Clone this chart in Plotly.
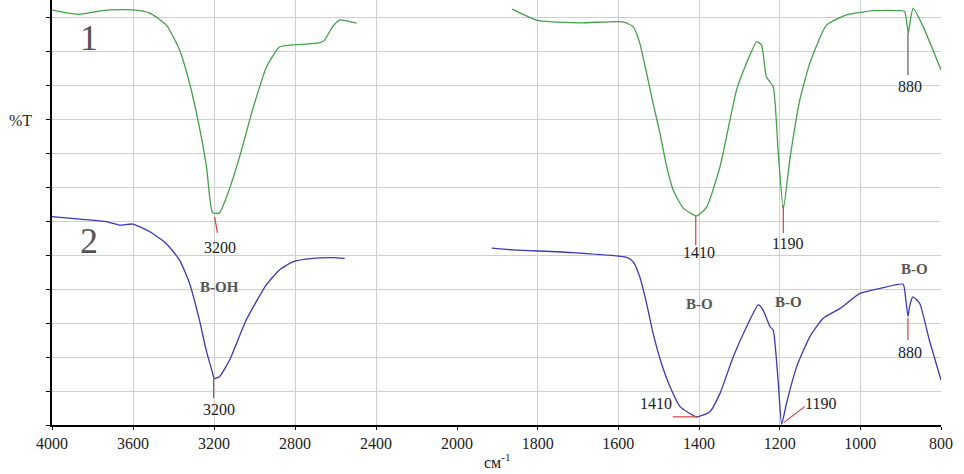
import plotly.graph_objects as go

# ---------------- data (wavenumber cm-1, %T in arbitrary grid units) ----------------
g1_hi_w = [4000, 3930, 3864, 3790, 3716, 3602, 3519, 3435, 3370, 3321, 3272, 3237, 3207, 3173, 3138, 3074,
           3010, 2941, 2877, 2812, 2679, 2654, 2615, 2580, 2540, 2496]
g1_hi_t = [12.21, 12.12, 12.08, 12.15, 12.21, 12.21, 12.12, 11.76, 11.03, 10.06, 8.76, 7.59, 6.24, 6.24, 6.71, 7.88,
           9.26, 10.53, 11.12, 11.18, 11.24, 11.32, 11.71, 11.91, 11.88, 11.82]

g1_lo_w = [1863, 1803, 1695, 1588, 1563, 1547, 1530, 1514, 1497, 1480, 1464, 1439, 1406, 1381,
           1348, 1307, 1282, 1257, 1245, 1233, 1216, 1204, 1191, 1175, 1150, 1125, 1084, 1034,
           968, 902, 890, 881, 876, 869, 844, 820, 800]
g1_lo_t = [12.23, 11.91, 11.83, 11.86, 11.71, 11.24, 10.35, 9.47, 8.59, 7.59, 6.91, 6.38, 6.15, 6.41,
           7.59, 9.85, 10.65, 11.27, 11.18, 10.24, 9.95, 8.09, 6.35, 7.79, 9.56, 10.65, 11.76, 12.06,
           12.19, 12.19, 12.16, 11.52, 11.91, 12.26, 11.71, 11.03, 10.44]

b2_hi_w = [4000, 3848, 3732, 3667, 3601, 3519, 3436, 3370, 3321, 3272, 3239, 3210, 3198, 3173, 3123,
           3041, 2942, 2877, 2811, 2712, 2613, 2555]
b2_hi_t = [6.13, 6.05, 5.98, 5.88, 5.91, 5.69, 5.34, 4.85, 4.17, 3.09, 2.21, 1.60, 1.37, 1.42, 1.91,
           3.09, 4.12, 4.56, 4.80, 4.90, 4.92, 4.90]

b2_lo_w = [1914, 1860, 1712, 1579, 1563, 1547, 1530, 1514, 1493, 1472, 1447, 1406, 1373, 1348,
           1315, 1282, 1253, 1241, 1224, 1216, 1204, 1195, 1183, 1158, 1125, 1092, 1050, 1001,
           951, 894, 888, 882, 878, 870, 853, 829, 800]
b2_lo_t = [5.20, 5.15, 5.07, 4.93, 4.80, 4.36, 3.58, 2.70, 1.81, 1.13, 0.54, 0.24, 0.39, 0.93,
           2.01, 2.89, 3.53, 3.38, 2.89, 2.79, 1.32, 0.02, 0.64, 1.71, 2.60, 3.14, 3.43, 3.87,
           4.02, 4.14, 3.77, 3.19, 3.48, 3.77, 3.58, 2.50, 1.32]

ticks_hi = [4000, 3600, 3200, 2800, 2400]
ticks_lo = [2000, 1800, 1600, 1400, 1200, 1000, 800]
ticks_y = list(range(0, 13))

GREEN = "#44a04a"
BLUE = "#3a3ab4"
RED = "#d04040"
SERIF = "Liberation Serif"

def curve(x, y, color, xa):
    return go.Scatter(x=x, y=y, mode="lines", xaxis=xa, yaxis="y",
                      line=dict(color=color, width=1.3, shape="spline", smoothing=0.5))

fig = go.Figure()
fig.add_trace(curve(g1_hi_w, g1_hi_t, GREEN, "x"))
fig.add_trace(curve(g1_lo_w, g1_lo_t, GREEN, "x2"))
fig.add_trace(curve(b2_hi_w, b2_hi_t, BLUE, "x"))
fig.add_trace(curve(b2_lo_w, b2_lo_t, BLUE, "x2"))

split = (457 - 52) / 889.0

axis_common = dict(showline=True, linecolor="black", linewidth=1.5, ticks="outside", ticklen=3,
                   tickcolor="black", showgrid=True, gridcolor="#cfcfcf", gridwidth=1,
                   zeroline=False, automargin=False,
                   tickfont=dict(family=SERIF, size=16, color="#222"))

fig.update_layout(
    width=964, height=474,
    margin=dict(l=52, r=23, t=0, b=49, autoexpand=False),
    paper_bgcolor="white", plot_bgcolor="white",
    font=dict(family=SERIF, color="#222"),
    showlegend=False,
    xaxis=dict(domain=[0, split], range=[4000, 2000], tickvals=ticks_hi, anchor="y", **axis_common),
    xaxis2=dict(domain=[split, 1], range=[2000, 800], tickvals=ticks_lo, anchor="y", **axis_common),
    yaxis=dict(range=[0, 12.5], tickvals=ticks_y, showticklabels=False, showline=True,
               linecolor="black", linewidth=1.5, ticks="outside", ticklen=4, tickcolor="black",
               showgrid=True, gridcolor="#cfcfcf", zeroline=False, automargin=False),
)

shapes = []
def seg(xr, x0, y0, x1, y1, color=RED):
    shapes.append(dict(type="line", xref=xr, yref="y", x0=x0, y0=y0, x1=x1, y1=y1,
                       line=dict(color=color, width=1.2)))

seg("x", 3197, 6.12, 3183, 5.65)
seg("x", 3202, 1.38, 3202, 0.79)
seg("x2", 1408, 6.15, 1408, 5.29)
seg("x2", 1191, 6.47, 1191, 5.65)
seg("x2", 882, 11.53, 882, 10.29, color="#5a5a70")
seg("x2", 1465, 0.24, 1403, 0.24)
seg("x2", 1190, 0.07, 1138, 0.54)
seg("x2", 882, 3.15, 882, 2.50)
fig.update_layout(shapes=shapes)

def ann(xr, x, y, text, size=16, color="#222", bold=False, xanchor="center"):
    t = f"<b>{text}</b>" if bold else text
    fig.add_annotation(xref=xr, yref="y", x=x, y=y, text=t, showarrow=False, xanchor=xanchor,
                       yanchor="middle", font=dict(family=SERIF, size=size, color=color))

ann("x", 3172, 5.21, "3200")
ann("x", 3173, 0.47, "3200")
ann("x2", 1400, 5.06, "1410")
ann("x2", 1180, 5.35, "1190")
ann("x2", 877, 9.97, "880")
ann("x2", 1462, 0.62, "1410", xanchor="right")
ann("x2", 1098, 0.62, "1190")
ann("x2", 877, 2.13, "880")
ann("x", 3173, 4.06, "B-OH", size=15, color="#555", bold=True)
ann("x2", 1399, 3.56, "B-O", size=15, color="#555", bold=True)
ann("x2", 1179, 3.61, "B-O", size=15, color="#555", bold=True)
ann("x2", 865, 4.58, "B-O", size=15, color="#555", bold=True)
ann("x", 3815, 11.38, "1", size=36, color="#555")
ann("x", 3815, 5.41, "2", size=36, color="#555")

fig.add_annotation(xref="paper", yref="paper", x=(20 - 52) / 889.0, y=(425 - 121) / 425.0,
                   text="%T", showarrow=False, xanchor="center", yanchor="middle",
                   font=dict(family=SERIF, size=16, color="#222"))
fig.add_annotation(xref="paper", yref="paper", x=(498 - 52) / 889.0, y=(425 - 461) / 425.0,
                   text="см<sup>-1</sup>", showarrow=False, xanchor="center", yanchor="middle",
                   font=dict(family=SERIF, size=16, color="#222"))

fig.write_html("out.html", config={"displayModeBar": False},
               post_script="document.body.style.margin='0';")
